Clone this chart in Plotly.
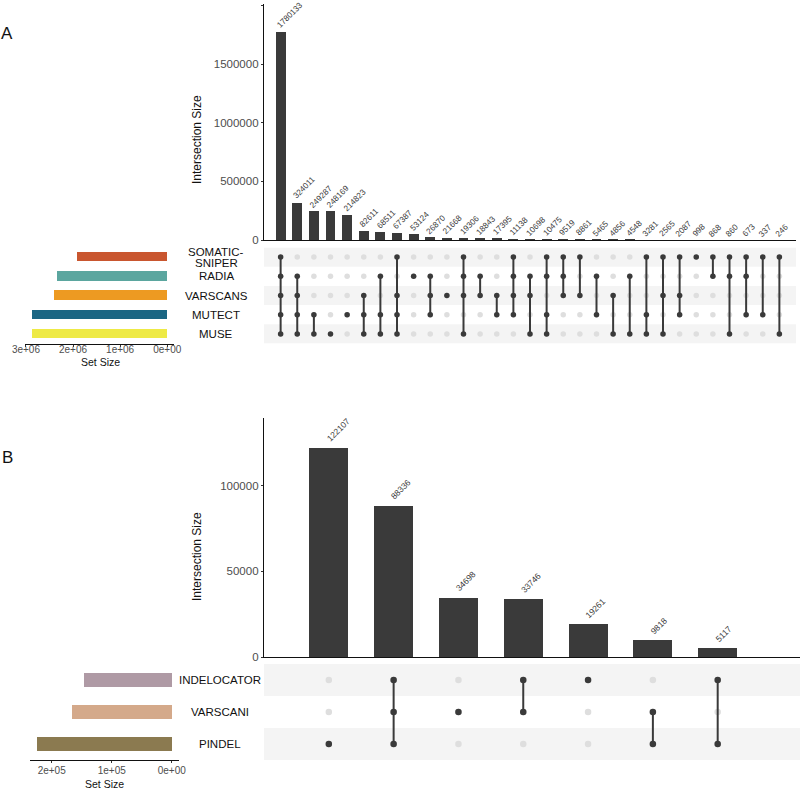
import plotly.graph_objects as go

W, H = 800, 790
FONT = "Liberation Sans, Arial, Helvetica, sans-serif"

# ---------------- Panel A data ----------------
a_sets = ["MUSE", "MUTECT", "VARSCANS", "RADIA", "SOMATIC-SNIPER"]          # bottom -> top
a_set_labels = [["MUSE"], ["MUTECT"], ["VARSCANS"], ["RADIA"], ["SOMATIC-", "SNIPER"]]
a_set_sizes = [2876944, 2864484, 2407948, 2345042, 1918734]
a_set_colors = ["#EEEA45", "#1B6683", "#ED9A22", "#5BA69F", "#C9562F"]
a_inter_sizes = [1780133, 324011, 249287, 248169, 214823, 82611, 68511, 67387, 53124,
                 26870, 21668, 19306, 18843, 17395, 11138, 10698, 10475, 9519, 8861,
                 5465, 4856, 4548, 3281, 2565, 2087, 998, 868, 860, 673, 337, 246]
# S=SOMATIC-SNIPER R=RADIA V=VARSCANS T=MUTECT M=MUSE
a_inter_codes = ["SRVTM", "RVTM", "TM", "M", "T", "VTM", "RTM", "SVTM", "R", "RVT", "V",
                 "SRVM", "RV", "VT", "SRVT", "RVM", "SRTM", "SRV", "SV", "RT", "VM", "RM",
                 "STM", "SVM", "SVT", "S", "SR", "SRM", "SRT", "ST", "SM"]
a_code_map = {"M": "MUSE", "T": "MUTECT", "V": "VARSCANS", "R": "RADIA", "S": "SOMATIC-SNIPER"}
a_yticks = [0, 500000, 1000000, 1500000, 2000000]
a_yticktext = ["0", "500000", "1000000", "1500000", "2000000"]
a_xticks = [3000000, 2000000, 1000000, 0]
a_xticktext = ["3e+06", "2e+06", "1e+06", "0e+00"]

# ---------------- Panel B data ----------------
b_sets = ["PINDEL", "VARSCANI", "INDELOCATOR"]                                # bottom -> top
b_set_labels = [["PINDEL"], ["VARSCANI"], ["INDELOCATOR"]]
b_set_sizes = [225378, 166598, 146460]
b_set_colors = ["#8B7A50", "#D4A98A", "#AF9AA5"]
b_inter_sizes = [122107, 88336, 34698, 33746, 19261, 9818, 5117]
b_inter_codes = ["P", "IVP", "V", "IV", "I", "VP", "IP"]
b_code_map = {"P": "PINDEL", "V": "VARSCANI", "I": "INDELOCATOR"}
b_yticks = [0, 50000, 100000]
b_yticktext = ["0", "50000", "100000"]
b_xticks = [200000, 100000, 0]
b_xticktext = ["2e+05", "1e+05", "0e+00"]

DARK = "#3a3a3a"
GREY_DOT = "#dedede"
BAND = "#f4f4f4"


def xd(a, b):
    return [a / W, b / W]


def yd(top, bottom):
    return [1 - bottom / H, 1 - top / H]


fig = go.Figure()
shapes = []
annotations = []


def panel(sets, set_labels, set_sizes, set_colors, inter_sizes, inter_codes, code_map,
          ax, dot_size, bar_w, hbar_w, label_dx, label_dy, label_x, label_font):
    n = len(inter_sizes)
    cols = list(range(1, n + 1))
    xb, yb, xm, ym, xs, ys = ax
    # intersection bars
    fig.add_trace(go.Bar(x=cols, y=inter_sizes, width=bar_w, marker_color=DARK,
                         marker_line_width=0, xaxis=xb, yaxis=yb, showlegend=False,
                         hoverinfo="skip"))
    for c, v in zip(cols, inter_sizes):
        annotations.append(dict(x=c, y=v, xref=xb, yref=yb, text=str(v),
                                textangle=-45, showarrow=False, xanchor="left",
                                yanchor="bottom", xshift=label_dx, yshift=label_dy,
                                borderpad=0,
                                font=dict(size=label_font, color="#3a3a3a", family=FONT)))
    # bands
    for i in range(len(sets)):
        if i % 2 == 0:
            shapes.append(dict(type="rect", xref=xm + " domain", yref=ym,
                               x0=0, x1=1, y0=i - 0.5, y1=i + 0.5,
                               fillcolor=BAND, line_width=0, layer="below"))
    # grey dots
    gx, gy = [], []
    for c in cols:
        for i in range(len(sets)):
            gx.append(c)
            gy.append(i)
    fig.add_trace(go.Scatter(x=gx, y=gy, mode="markers", xaxis=xm, yaxis=ym,
                             marker=dict(size=dot_size, color=GREY_DOT), showlegend=False,
                             hoverinfo="skip"))
    # lines + filled dots
    lx, ly, dx, dy = [], [], [], []
    for c, code in zip(cols, inter_codes):
        rows = [sets.index(code_map[ch]) for ch in code]
        for r in rows:
            dx.append(c)
            dy.append(r)
        if len(rows) > 1:
            lx += [c, c, None]
            ly += [min(rows), max(rows), None]
    fig.add_trace(go.Scatter(x=lx, y=ly, mode="lines", xaxis=xm, yaxis=ym,
                             line=dict(color=DARK, width=2), showlegend=False,
                             hoverinfo="skip"))
    fig.add_trace(go.Scatter(x=dx, y=dy, mode="markers", xaxis=xm, yaxis=ym,
                             marker=dict(size=dot_size, color=DARK), showlegend=False,
                             hoverinfo="skip"))
    # set size bars
    fig.add_trace(go.Bar(x=set_sizes, y=list(range(len(sets))), orientation="h",
                         width=hbar_w, marker_color=set_colors, marker_line_width=0,
                         xaxis=xs, yaxis=ys, showlegend=False, hoverinfo="skip"))
    # set labels
    for i, lines in enumerate(set_labels):
        k = len(lines)
        for j, lab in enumerate(lines):
            annotations.append(dict(x=label_x / W, y=i, xref="paper", yref=ym, text=lab,
                                    showarrow=False, xanchor="center", yanchor="middle",
                                    yshift=((k - 1) / 2 - j) * 11,
                                    font=dict(size=11.5, color="#111", family=FONT)))


panel(a_sets, a_set_labels, a_set_sizes, a_set_colors, a_inter_sizes, a_inter_codes,
      a_code_map, ("x", "y", "x2", "y2", "x3", "y3"), 5.5, 0.6, 0.5, -7, 0, 216, 8.2)
panel(b_sets, b_set_labels, b_set_sizes, b_set_colors, b_inter_sizes, b_inter_codes,
      b_code_map, ("x4", "y4", "x5", "y5", "x6", "y6"), 6.5, 0.6, 0.46, -6, 3, 220, 8.5)

tickfont = dict(size=11.5, color="#4d4d4d", family=FONT)
smallfont = dict(size=10, color="#4d4d4d", family=FONT)
axline = dict(showline=True, linecolor="#111", linewidth=1.3, showgrid=False,
              zeroline=False)

layout = dict(
    width=W, height=H, margin=dict(l=0, r=0, t=0, b=0, autoexpand=False),
    paper_bgcolor="white", plot_bgcolor="rgba(0,0,0,0)",
    font=dict(family=FONT), bargap=0,
    # Panel A
    xaxis=dict(domain=xd(264, 796), range=[0, 32], showticklabels=False, ticks="",
               anchor="y", **axline),
    yaxis=dict(domain=yd(3.5, 240), range=[0, 2018800], tickvals=a_yticks,
               ticktext=a_yticktext, ticks="outside", ticklen=2, tickcolor="#333",
               tickfont=tickfont, anchor="x", **axline),
    xaxis2=dict(domain=xd(264, 796), range=[0, 32], visible=False, anchor="y2"),
    yaxis2=dict(domain=yd(247.4, 343.6), range=[-0.5, 4.5], visible=False, anchor="x2"),
    xaxis3=dict(domain=xd(25, 174), range=[3020000, -144000], tickvals=a_xticks,
                ticktext=a_xticktext, ticks="outside", ticklen=2, tickcolor="#333",
                tickfont=smallfont, ticklabelstandoff=-6, anchor="y3", **axline),
    yaxis3=dict(domain=yd(247.4, 343.6), range=[-0.5, 4.5], visible=False, anchor="x3"),
    # Panel B
    xaxis4=dict(domain=xd(264, 800), range=[0, 8.27], showticklabels=False, ticks="",
                anchor="y4", **axline),
    yaxis4=dict(domain=yd(418, 657), range=[0, 139600], tickvals=b_yticks,
                ticktext=b_yticktext, ticks="outside", ticklen=2, tickcolor="#333",
                tickfont=tickfont, anchor="x4", **axline),
    xaxis5=dict(domain=xd(264, 800), range=[0, 8.27], visible=False, anchor="y5"),
    yaxis5=dict(domain=yd(664, 760), range=[-0.5, 2.5], visible=False, anchor="x5"),
    xaxis6=dict(domain=xd(29.7, 178.5), range=[236647, -11269], tickvals=b_xticks,
                ticktext=b_xticktext, ticks="outside", ticklen=2, tickcolor="#333",
                tickfont=smallfont, ticklabelstandoff=-1, anchor="y6", **axline),
    yaxis6=dict(domain=yd(664, 760), range=[-0.5, 2.5], visible=False, anchor="x6"),
)


def pann(x, y, text, size, angle=0):
    return dict(x=x / W, y=1 - y / H, xref="paper", yref="paper", text=text,
                textangle=angle, showarrow=False, xanchor="center", yanchor="middle",
                font=dict(size=size, color="#111", family=FONT))


# titles and panel letters
annotations += [
    pann(197, 140, "Intersection Size", 12, -90),
    pann(197, 557, "Intersection Size", 12, -90),
    pann(100, 362, "Set Size", 10.5),
    pann(104, 784, "Set Size", 10.5),
    pann(7, 33, "A", 17),
    pann(7, 457, "B", 17),
]

layout["shapes"] = shapes
layout["annotations"] = annotations
fig.update_layout(**layout)
fig.write_html("out.html", config={"displayModeBar": False},
               post_script="document.body.style.margin='0';document.body.style.overflow='hidden';")
